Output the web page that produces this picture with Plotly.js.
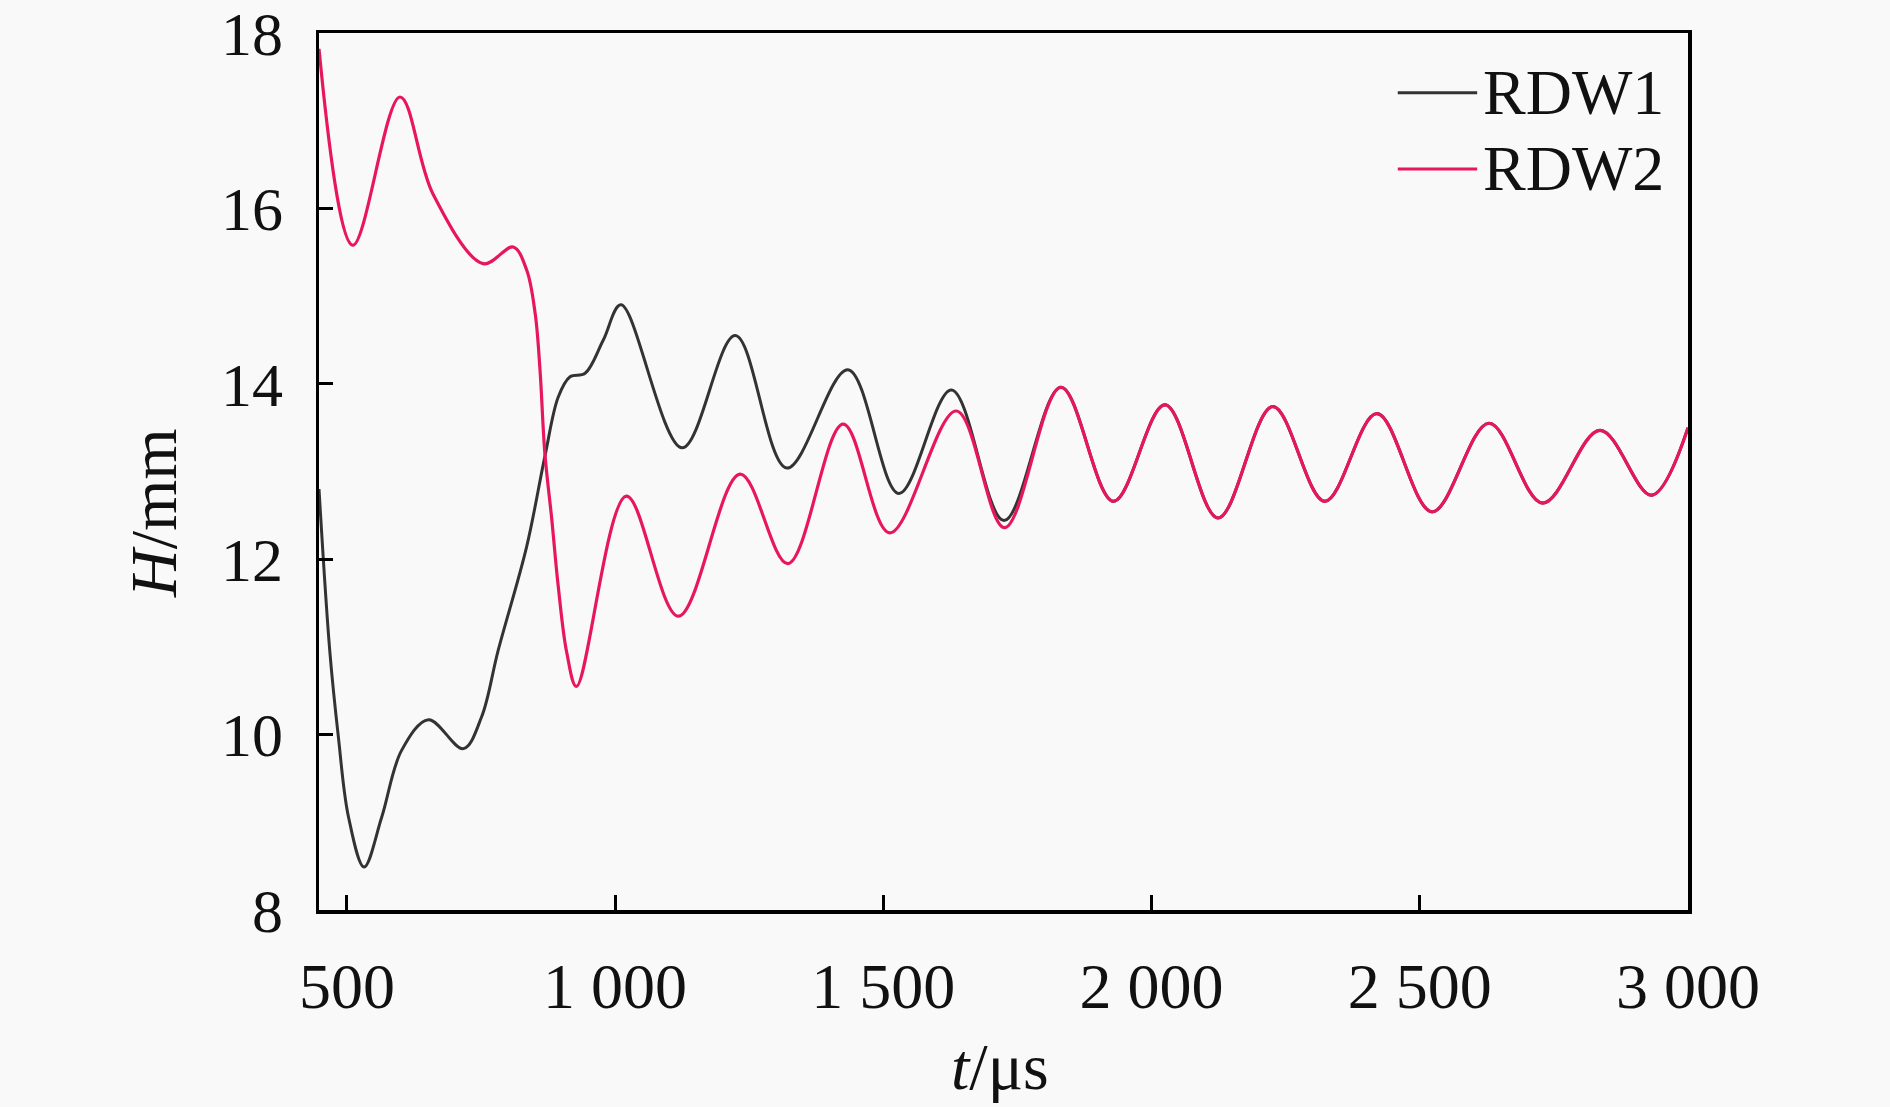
<!DOCTYPE html>
<html>
<head>
<meta charset="utf-8">
<script src="https://cdn.plot.ly/plotly-3.0.1.min.js"></script>
<style>
  html, body { margin: 0; padding: 0; background: #f9f9f9; }
  #gd { width: 1890px; height: 1107px; }
</style>
</head>
<body>
<div id="gd"></div>
<script>
// H (mm) against t (us)
// after ~1750 us both waves run on top of each other
var tailT = [1831, 1929, 2025, 2124, 2226, 2323, 2420, 2523, 2629, 2729, 2836, 2932, 3000];
var tailH = [13.96, 12.66, 13.76, 12.47, 13.74, 12.66, 13.66, 12.54, 13.55, 12.64, 13.47, 12.73, 13.5];

var rdw1T = [448, 468, 484, 503, 532, 565, 602, 652, 717, 751, 782, 835, 869, 894,
             916, 944, 978, 1011, 1125, 1224, 1320, 1434, 1529, 1627, 1725];
var rdw1H = [12.8, 10.96, 9.98, 9.06, 8.49, 9.06, 9.82, 10.17, 9.84, 10.20, 10.96, 12.14, 13.17, 13.85,
             14.08, 14.12, 14.5, 14.90, 13.27, 14.55, 13.04, 14.16, 12.75, 13.93, 12.44];

var rdw2T = [448, 511, 599, 660, 754, 810, 835, 851, 860, 869, 882, 894, 910, 928,
             1021, 1118, 1233, 1322, 1425, 1512, 1636, 1726];
var rdw2H = [17.82, 15.58, 17.27, 16.17, 15.37, 15.56, 15.30, 14.80, 14.16, 13.21, 12.45, 11.69, 10.93, 10.55,
             12.72, 11.35, 12.97, 11.95, 13.54, 12.30, 13.69, 12.36];

var xTicks = [500, 1000, 1500, 2000, 2500, 3000];
var yTicks = [8, 10, 12, 14, 16, 18];
var names = ['RDW1', 'RDW2'];
var colors = ['#333333', '#e8175d'];

var serif = 'Liberation Serif, Times New Roman, serif';

var data = [
  {
    x: rdw1T.concat(tailT),
    y: rdw1H.concat(tailH),
    name: names[0],
    type: 'scatter',
    mode: 'lines',
    line: {color: colors[0], width: 3, shape: 'spline', smoothing: 1}
  },
  {
    x: rdw2T.concat(tailT),
    y: rdw2H.concat(tailH),
    name: names[1],
    type: 'scatter',
    mode: 'lines',
    line: {color: colors[1], width: 3.2, shape: 'spline', smoothing: 1}
  }
];

// legend drawn by hand so the sample lines can be as long as in the figure
var legendShapes = [];
var legendNotes = [];
var rowY = [0.932, 0.845];
for (var i = 0; i < names.length; i++) {
  legendShapes.push({
    type: 'line', xref: 'paper', yref: 'paper',
    x0: 0.788, x1: 0.846, y0: rowY[i], y1: rowY[i],
    line: {color: colors[i], width: 3}
  });
  legendNotes.push({
    xref: 'paper', yref: 'paper', x: 0.849, y: rowY[i],
    xanchor: 'left', yanchor: 'middle', showarrow: false,
    text: names[i], font: {family: serif, size: 64, color: '#111'}
  });
}

var layout = {
  width: 1890,
  height: 1107,
  margin: {l: 319, r: 202, t: 33, b: 197},
  paper_bgcolor: '#f9f9f9',
  plot_bgcolor: '#f9f9f9',
  showlegend: false,
  separators: '. ',
  font: {family: serif, size: 64, color: '#111'},
  xaxis: {
    range: [448, 3000],
    tickvals: xTicks,
    separatethousands: true,
    ticks: 'inside',
    ticklen: 15,
    tickwidth: 3,
    tickcolor: '#000',
    ticklabelstandoff: 18,
    ticklabeloverflow: 'allow',
    showline: true,
    mirror: true,
    linecolor: '#000',
    linewidth: 3.5,
    showgrid: false,
    zeroline: false,
    tickfont: {family: serif, size: 64, color: '#111'}
  },
  yaxis: {
    range: [8, 18],
    tickvals: yTicks,
    ticks: 'inside',
    ticklen: 14,
    tickwidth: 3,
    tickcolor: '#000',
    ticklabelstandoff: 20,
    ticklabeloverflow: 'allow',
    showline: true,
    mirror: true,
    linecolor: '#000',
    linewidth: 3.5,
    showgrid: false,
    zeroline: false,
    tickfont: {family: serif, size: 62, color: '#111'}
  },
  shapes: legendShapes,
  annotations: legendNotes.concat([
    {
      xref: 'paper', yref: 'paper', x: -0.1205, y: 0.4527,
      xanchor: 'center', yanchor: 'middle', textangle: -90, showarrow: false,
      text: '<i>H</i>/mm', font: {family: serif, size: 66, color: '#111'}
    },
    {
      xref: 'paper', yref: 'paper', x: 0.4974, y: -0.179,
      xanchor: 'center', yanchor: 'middle', showarrow: false,
      text: '<i>t</i>/μs', font: {family: serif, size: 66, color: '#111'}
    }
  ])
};

Plotly.newPlot('gd', data, layout, {displayModeBar: false, staticPlot: true});
</script>
</body>
</html>
